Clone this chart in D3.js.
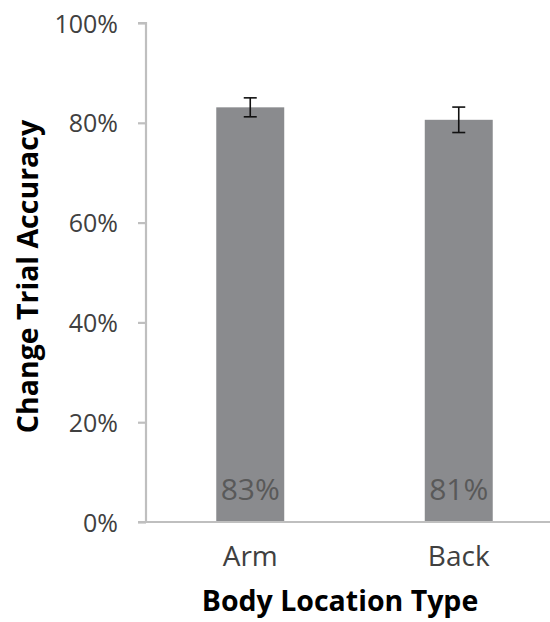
<!DOCTYPE html>
<html>
<head>
<meta charset="utf-8">
<script src="https://cdn.jsdelivr.net/npm/d3@7"></script>
<style>
  html, body { margin: 0; padding: 0; background: #fff; }
  svg { display: block; }
</style>
</head>
<body>
<svg id="chart" width="550" height="622"></svg>
<script>
const categories = ["Arm", "Back"];
const values = [0.831, 0.806];
const errors = [0.019, 0.0255];
const yTicks = [0, 0.2, 0.4, 0.6, 0.8, 1.0];
const yTitle = "Change Trial Accuracy";
const xTitle = "Body Location Type";

const svg = d3.select("#chart");
const font = "'Open Sans', Lato, sans-serif";
const plot = { left: 146, right: 563, top: 23, bottom: 522 };

const y = d3.scaleLinear().domain([0, 1]).range([plot.bottom, plot.top]);
const x = d3.scaleBand().domain(categories).range([plot.left, plot.right])
  .paddingInner(0.674).paddingOuter(0.337);

// bars
svg.append("g").selectAll("rect").data(categories).join("rect")
  .attr("x", d => x(d))
  .attr("width", x.bandwidth())
  .attr("y", (d, i) => y(values[i]))
  .attr("height", (d, i) => y(0) - y(values[i]))
  .attr("fill", "#8a8b8e");

// y axis
const yAxis = svg.append("g").attr("transform", `translate(${plot.left},0)`)
  .call(d3.axisLeft(y).tickValues(yTicks).tickFormat(d3.format(".0%")).tickSize(8).tickPadding(20));
yAxis.select(".domain").attr("stroke", "#bfbfbf").attr("stroke-width", 2.2)
  .attr("d", `M-8,${y(1)}H0V${y(0)}`);
yAxis.selectAll(".tick line").attr("stroke", "#bfbfbf").attr("stroke-width", 2.2);
yAxis.selectAll(".tick text").attr("font-family", font).attr("font-size", 25)
  .attr("fill", "#404040").attr("dy", "0.36em");

// x axis line
svg.append("line")
  .attr("x1", plot.left - 8).attr("x2", 550)
  .attr("y1", y(0)).attr("y2", y(0))
  .attr("stroke", "#bfbfbf").attr("stroke-width", 2.2);

// category labels
svg.append("g").selectAll("text").data(categories).join("text")
  .attr("x", d => x(d) + x.bandwidth() / 2)
  .attr("y", 566)
  .attr("text-anchor", "middle")
  .attr("font-family", font).attr("font-size", 28)
  .attr("fill", "#404040")
  .text(d => d);

// value labels
svg.append("g").selectAll("text").data(categories).join("text")
  .attr("x", d => x(d) + x.bandwidth() / 2)
  .attr("y", 500)
  .attr("text-anchor", "middle")
  .attr("font-family", font).attr("font-size", 30)
  .attr("fill", "#595959")
  .text((d, i) => d3.format(".0%")(values[i]));

// error bars
const eb = svg.append("g").attr("stroke", "#111").attr("stroke-width", 1.6);
categories.forEach((c, i) => {
  const cx = x(c) + x.bandwidth() / 2;
  const top = y(values[i] + errors[i]);
  const bot = y(values[i] - errors[i]);
  eb.append("line").attr("x1", cx).attr("x2", cx).attr("y1", top).attr("y2", bot);
  eb.append("line").attr("x1", cx - 6.5).attr("x2", cx + 6.5).attr("y1", top).attr("y2", top);
  eb.append("line").attr("x1", cx - 6.5).attr("x2", cx + 6.5).attr("y1", bot).attr("y2", bot);
});

// axis titles
svg.append("text")
  .attr("transform", `translate(38,${(plot.top + plot.bottom) / 2 + 4}) rotate(-90)`)
  .attr("text-anchor", "middle")
  .attr("font-family", font).attr("font-weight", "bold").attr("font-size", 28.5)
  .attr("fill", "#000")
  .text(yTitle);

svg.append("text")
  .attr("x", 340).attr("y", 611)
  .attr("text-anchor", "middle")
  .attr("font-family", font).attr("font-weight", "bold").attr("font-size", 28.5)
  .attr("fill", "#000")
  .text(xTitle);
</script>
</body>
</html>
